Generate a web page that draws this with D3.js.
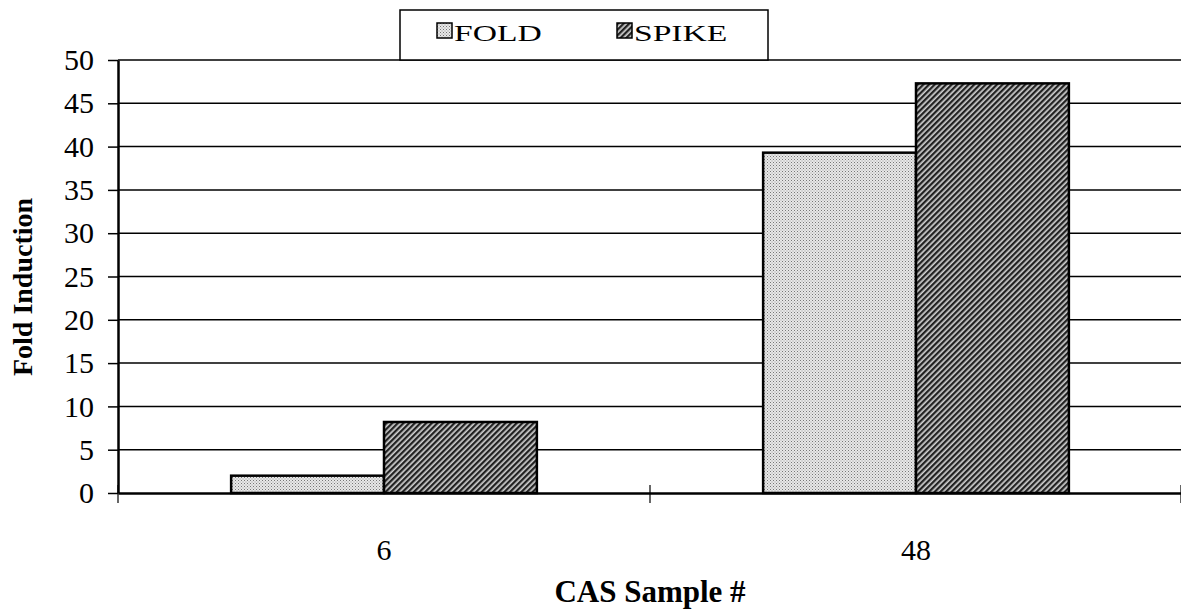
<!DOCTYPE html>
<html>
<head>
<meta charset="utf-8">
<script src="https://cdn.jsdelivr.net/npm/d3@7"></script>
<style>
  body { margin: 0; background: #fff; }
  svg { display: block; font-family: "Liberation Serif", "Times New Roman", serif; }
</style>
</head>
<body>
<svg id="chart" width="1181" height="611"></svg>
<script>
// chart data
var categories = ['6', '48'];
var seriesNames = ['FOLD', 'SPIKE'];
var foldValues = [2.0, 39.3];
var spikeValues = [8.2, 47.3];
var yTicks = [0, 5, 10, 15, 20, 25, 30, 35, 40, 45, 50];

var svg = d3.select('#chart');
var plotL = 118, plotR = 1182, plotT = 60, plotB = 493;

// patterns
var defs = svg.append('defs');
var dots = defs.append('pattern')
    .attr('id', 'dots')
    .attr('patternUnits', 'userSpaceOnUse')
    .attr('width', 3).attr('height', 3);
dots.append('rect').attr('width', 3).attr('height', 3).attr('fill', '#e8e8e8');
dots.append('rect').attr('x', 0).attr('y', 0).attr('width', 1).attr('height', 1).attr('fill', '#777');
dots.append('rect').attr('x', 1.5).attr('y', 1.5).attr('width', 1).attr('height', 1).attr('fill', '#9a9a9a');

var hatch = defs.append('pattern')
    .attr('id', 'hatch')
    .attr('patternUnits', 'userSpaceOnUse')
    .attr('width', 4).attr('height', 4)
    .attr('patternTransform', 'rotate(45)');
hatch.append('rect').attr('width', 4).attr('height', 4).attr('fill', '#d0d0d0');
hatch.append('rect').attr('x', 0).attr('y', 0).attr('width', 2.3).attr('height', 4).attr('fill', '#222');

var fills = { FOLD: 'url(#dots)', SPIKE: 'url(#hatch)' };

var x0 = d3.scaleBand()
    .domain(categories)
    .range([plotL, plotR]);
var x1 = d3.scaleBand()
    .domain(seriesNames)
    .range([0, x0.bandwidth()])
    .paddingOuter(0.74)
    .paddingInner(0);
var y = d3.scaleLinear()
    .domain([0, 50])
    .range([plotB, plotT]);

// grid lines
svg.append('g')
    .selectAll('line')
    .data(yTicks.slice(1))
    .join('line')
    .attr('x1', plotL).attr('x2', plotR)
    .attr('y1', function(d) { return y(d); })
    .attr('y2', function(d) { return y(d); })
    .attr('stroke', '#000')
    .attr('stroke-width', 1.5);

// bars
var rows = categories.map(function(c, i) {
    return { cat: c, vals: [
        { name: 'FOLD', v: foldValues[i] },
        { name: 'SPIKE', v: spikeValues[i] }
    ] };
});
svg.append('g')
    .selectAll('g')
    .data(rows)
    .join('g')
    .attr('transform', function(d) { return 'translate(' + x0(d.cat) + ',0)'; })
    .selectAll('rect')
    .data(function(d) { return d.vals; })
    .join('rect')
    .attr('x', function(d) { return x1(d.name); })
    .attr('width', x1.bandwidth())
    .attr('y', function(d) { return y(d.v); })
    .attr('height', function(d) { return y(0) - y(d.v); })
    .attr('fill', function(d) { return fills[d.name]; })
    .attr('stroke', '#000')
    .attr('stroke-width', 2.5);

// y axis
var yAxis = svg.append('g')
    .attr('transform', 'translate(' + plotL + ',0)')
    .call(d3.axisLeft(y).tickValues(yTicks).tickSize(10).tickPadding(14).tickSizeOuter(0));
yAxis.select('.domain').attr('stroke-width', 2.5);
yAxis.selectAll('.tick line').attr('stroke-width', 1.5);
yAxis.selectAll('text')
    .style('font-family', '"Liberation Serif", serif')
    .style('font-size', '30px')
    .attr('fill', '#000');

// x axis
var xAxis = svg.append('g')
    .attr('transform', 'translate(0,' + plotB + ')')
    .call(d3.axisBottom(x0).tickSize(0).tickPadding(46));
xAxis.select('.domain').attr('stroke-width', 2.5);
xAxis.selectAll('text')
    .style('font-family', '"Liberation Serif", serif')
    .style('font-size', '30px')
    .attr('fill', '#000');
// category separator ticks
var sepVals = [plotL, plotL + x0.step(), plotR - 1];
svg.append('g')
    .selectAll('line')
    .data(sepVals)
    .join('line')
    .attr('x1', function(d) { return d; }).attr('x2', function(d) { return d; })
    .attr('y1', plotB - 8).attr('y2', plotB + 10)
    .attr('stroke', '#000')
    .attr('stroke-width', 1.2);

// axis titles
svg.append('text')
    .attr('transform', 'translate(32,287) rotate(-90)')
    .attr('text-anchor', 'middle')
    .style('font-size', '28px')
    .style('font-weight', 'bold')
    .text('Fold Induction');
svg.append('text')
    .attr('x', 650)
    .attr('y', 602)
    .attr('text-anchor', 'middle')
    .style('font-size', '31px')
    .style('font-weight', 'bold')
    .text('CAS Sample #');

// legend
var legend = svg.append('g');
legend.append('rect')
    .attr('x', 400).attr('y', 10)
    .attr('width', 368).attr('height', 50)
    .attr('fill', '#fff')
    .attr('stroke', '#000')
    .attr('stroke-width', 1.5);
var legX = [437, 617];
var items = legend.selectAll('g.item')
    .data(seriesNames)
    .join('g')
    .attr('class', 'item')
    .attr('transform', function(d, i) { return 'translate(' + legX[i] + ',23)'; });
items.append('rect')
    .attr('width', 15).attr('height', 15)
    .attr('fill', function(d) { return fills[d]; })
    .attr('stroke', '#000')
    .attr('stroke-width', 1.5);
items.append('text')
    .attr('transform', 'translate(17,18) scale(1.4,1)')
    .style('font-size', '24px')
    .text(function(d) { return d; });
</script>
</body>
</html>
